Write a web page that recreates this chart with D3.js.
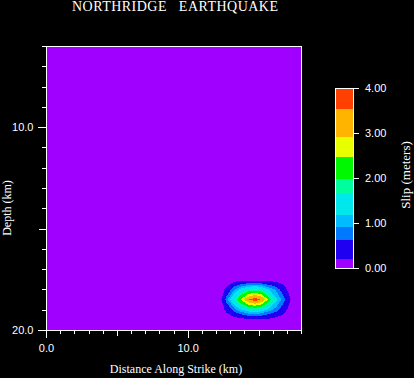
<!DOCTYPE html>
<html lang="en">
<head>
<meta charset="UTF-8">
<title>Northridge Earthquake</title>
<script src="https://d3js.org/d3.v7.min.js"></script>
<style>
  body { margin: 0; background: #000; overflow: hidden; }
  svg { display: block; }
</style>
</head>
<body>
<div id="chart"></div>
<script>
// slip model nodes (km)
const distNodes = [11.75, 12.25, 12.75, 13.25, 13.75, 14.25, 14.75, 15.25, 15.75, 16.25, 16.75, 17.25, 17.75];
const depthNodes = [17.0, 17.5, 18.0, 18.5, 19.0, 19.5, 20.0];

// slip (m), one row per depth node
const slip170 = [0, 0, 0,    0,    0,    0,    0,    0,    0,    0,    0,    0,    0];
const slip175 = [0, 0, 0,    0,    0,    0,    0,    0,    0,    0,    0,    0,    0];
const slip180 = [0, 0, 0.30, 0.85, 1.30, 1.60, 1.75, 1.55, 1.15, 0.85, 0.40, 0.05, 0];
const slip185 = [0, 0, 0.80, 1.63, 2.50, 3.45, 3.90, 3.45, 2.25, 1.24, 0.80, 0.22, 0];
const slip190 = [0, 0, 0.30, 0.75, 1.15, 1.40, 1.55, 1.35, 1.05, 0.80, 0.40, 0.05, 0];
const slip195 = [0, 0, 0,    0,    0,    0.10, 0.10, 0.10, 0.10, 0,    0,    0,    0];
const slip200 = [0, 0, 0,    0,    0,    0,    0,    0,    0,    0,    0,    0,    0];
const slipRows = [slip170, slip175, slip180, slip185, slip190, slip195, slip200];

const slipLevels = [0, 0.21, 0.63, 0.92, 1.18, 1.65, 1.98, 2.46, 2.92, 3.54, 4.0];
const levelColors = ["#a000ff", "#2000f0", "#0078ff", "#00bcff", "#00e8ec",
                     "#00ff9c", "#00f800", "#e8ff00", "#ffb400", "#ff4000"];

const distTicks = [0, 1, 2, 3, 4, 5, 6, 7, 8, 9, 10, 11, 12, 13, 14, 15, 16, 17, 18];
const depthTicks = [6, 7, 8, 9, 10, 11, 12, 13, 14, 15, 16, 17, 18, 19, 20];
const distLabels = [0, 10];
const depthLabels = [10, 20];
const slipTicks = [0, 1, 2, 3, 4];

const width = 414, height = 378;
const plot = { left: 46, right: 301, top: 46, bottom: 330 };

const svg = d3.select("#chart").append("svg")
    .attr("width", width)
    .attr("height", height)
    .style("background", "#000");

const x = d3.scaleLinear().domain([0, 18]).range([plot.left, plot.right]);
const y = d3.scaleLinear().domain([6, 20]).range([plot.top, plot.bottom]);

// background (lowest slip band)
svg.append("rect")
    .attr("x", x(0)).attr("y", y(6))
    .attr("width", x(18) - x(0)).attr("height", y(20) - y(6))
    .attr("fill", levelColors[0]);

// filled contours of the slip grid
const nx = distNodes.length, ny = depthNodes.length;
const dStep = distNodes[1] - distNodes[0], zStep = depthNodes[1] - depthNodes[0];
const values = slipRows.flat();

const contours = d3.contours()
    .size([nx, ny])
    .thresholds(slipLevels.slice(1, -1))(values);

const proj = d3.geoTransform({
    point: function(px, py) {
        this.stream.point(x(distNodes[0] + (px - 0.5) * dStep), y(depthNodes[0] + (py - 0.5) * zStep));
    }
});

svg.append("g")
    .selectAll("path")
    .data(contours)
    .enter().append("path")
    .attr("d", d3.geoPath(proj))
    .attr("fill", (d, i) => levelColors[i + 1])
    .attr("shape-rendering", "crispEdges");

// frame
svg.append("rect")
    .attr("x", x(0)).attr("y", y(6))
    .attr("width", x(18) - x(0)).attr("height", y(20) - y(6))
    .attr("fill", "none")
    .attr("stroke", "#fff")
    .attr("stroke-width", 1)
    .attr("shape-rendering", "crispEdges");

// axes
const xAxis = svg.append("g")
    .attr("transform", `translate(0,${plot.bottom})`)
    .call(d3.axisBottom(x).tickValues(distTicks).tickSize(4).tickPadding(10)
        .tickFormat(d => distLabels.includes(d) ? d.toFixed(1) : ""));
xAxis.selectAll(".tick line").attr("y2", d => d % 10 === 0 ? 8 : d % 5 === 0 ? 6 : 4);

const yAxis = svg.append("g")
    .attr("transform", `translate(${plot.left},0)`)
    .call(d3.axisLeft(y).tickValues(depthTicks).tickSize(4).tickPadding(8.5)
        .tickFormat(d => depthLabels.includes(d) ? d.toFixed(1) : ""));
yAxis.selectAll(".tick line").attr("x2", d => d % 10 === 0 ? -8 : d % 5 === 0 ? -7 : -4);

[xAxis, yAxis].forEach(g => {
    g.select(".domain").remove();
    g.attr("color", "#fff")
        .attr("font-family", "'Liberation Sans', Arial, sans-serif")
        .attr("font-size", 11)
        .attr("shape-rendering", "crispEdges");
});

// colour bar
const cb = { x: 335, w: 18 };
const c = d3.scaleLinear().domain([0, 4]).range([268, 88]);

svg.append("g")
    .selectAll("rect")
    .data(levelColors)
    .enter().append("rect")
    .attr("x", cb.x)
    .attr("width", cb.w)
    .attr("y", (d, i) => c(slipLevels[i + 1]))
    .attr("height", (d, i) => c(slipLevels[i]) - c(slipLevels[i + 1]))
    .attr("fill", d => d)
    .attr("shape-rendering", "crispEdges");

svg.append("rect")
    .attr("x", cb.x).attr("y", c(4))
    .attr("width", cb.w).attr("height", c(0) - c(4))
    .attr("fill", "none")
    .attr("stroke", "#fff")
    .attr("shape-rendering", "crispEdges");

const cAxis = svg.append("g")
    .attr("transform", `translate(${cb.x + cb.w},0)`)
    .call(d3.axisRight(c).tickValues(slipTicks).tickSize(6).tickPadding(6)
        .tickFormat(d3.format(".2f")));
cAxis.select(".domain").remove();
cAxis.attr("color", "#fff")
    .attr("font-family", "'Liberation Sans', Arial, sans-serif")
    .attr("font-size", 11)
    .attr("shape-rendering", "crispEdges");

// titles
svg.append("text")
    .attr("x", 72).attr("y", 11)
    .attr("textLength", 206)
    .attr("lengthAdjust", "spacing")
    .attr("fill", "#fff")
    .style("white-space", "pre")
    .style("font-family", "'Liberation Serif', 'Times New Roman', serif")
    .style("font-size", "14px")
    .text("NORTHRIDGE   EARTHQUAKE");

svg.append("text")
    .attr("x", 176).attr("y", 373)
    .attr("text-anchor", "middle")
    .attr("fill", "#fff")
    .style("font-family", "'Liberation Serif', 'Times New Roman', serif")
    .style("font-size", "12px")
    .text("Distance Along Strike (km)");

svg.append("text")
    .attr("transform", "translate(11,208) rotate(-90)")
    .attr("text-anchor", "middle")
    .attr("fill", "#fff")
    .style("font-family", "'Liberation Serif', 'Times New Roman', serif")
    .style("font-size", "12px")
    .text("Depth (km)");

svg.append("text")
    .attr("transform", "translate(410,175) rotate(-90)")
    .attr("text-anchor", "middle")
    .attr("fill", "#fff")
    .style("font-family", "'Liberation Serif', 'Times New Roman', serif")
    .style("font-size", "13px")
    .text("Slip (meters)");
</script>
</body>
</html>
